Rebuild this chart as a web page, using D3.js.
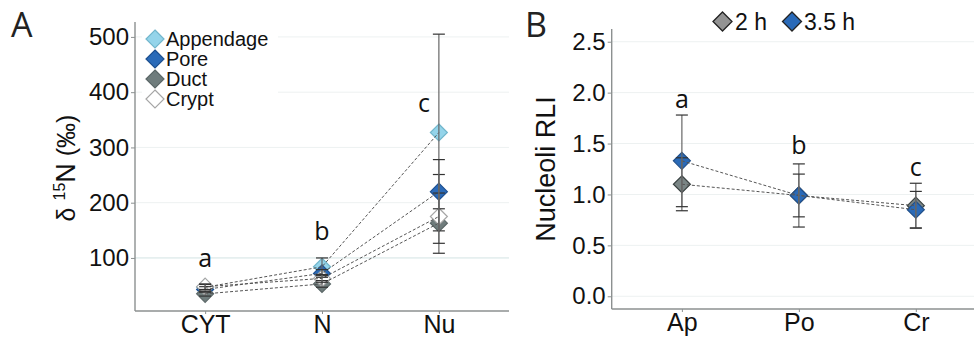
<!DOCTYPE html>
<html>
<head>
<meta charset="utf-8">
<script src="https://cdn.jsdelivr.net/npm/d3@7"></script>
<style>
  body { margin: 0; background: #fff; }
  svg { display: block; font-family: "Liberation Sans", Arial, sans-serif; }
</style>
</head>
<body>
<div id="chart"></div>
<script>
// ---- panel A data ----
const catsA = ["CYT", "N", "Nu"];
const seriesA = ["Appendage", "Pore", "Duct", "Crypt"];
const appendage = [47, 84, 327];
const appendageLo = [42, 68, 149];
const appendageHi = [52, 100, 505];
const pore = [43, 72, 220];
const poreLo = [38, 65, 189];
const poreHi = [48, 79, 251];
const duct = [35, 53, 163];
const ductLo = [31, 47, 108.5];
const ductHi = [39, 59, 217.5];
const crypt = [48, 63, 175];
const cryptLo = [43, 56, 126.5];
const cryptHi = [53, 70, 278];
const ticksA = [100, 200, 300, 400, 500];
const lettersA = ["a", "b", "c"];
const letterYA = [84, 133, 365];

// ---- panel B data ----
const catsB = ["Ap", "Po", "Cr"];
const seriesB = ["2 h", "3.5 h"];
const h2 = [1.10, 0.99, 0.89];
const h2Lo = [0.84, 0.68, 0.67];
const h2Hi = [1.36, 1.30, 1.11];
const h35 = [1.33, 0.99, 0.85];
const h35Lo = [0.88, 0.78, 0.67];
const h35Hi = [1.78, 1.20, 1.03];
const ticksB = [0.0, 0.5, 1.0, 1.5, 2.0, 2.5];
const lettersB = ["a", "b", "c"];
const letterYB = [1.85, 1.40, 1.18];

const stylesA = {
  "Appendage": { fill: "#94d4ea", stroke: "#72b6cc" },
  "Pore": { fill: "#2a6ab8", stroke: "#1d4f8f" },
  "Duct": { fill: "#6f7c7c", stroke: "#5b6767" },
  "Crypt": { fill: "#ffffff", stroke: "#a6a6a6" }
};
const stylesB = {
  "2 h": { fill: "#7a8585", stroke: "#3a4242", legendFill: "#939393" },
  "3.5 h": { fill: "#2a6ab8", stroke: "#22508a", legendFill: "#2a6ab8" }
};

const tableA = [
  { name: "Appendage", v: appendage, lo: appendageLo, hi: appendageHi },
  { name: "Pore", v: pore, lo: poreLo, hi: poreHi },
  { name: "Duct", v: duct, lo: ductLo, hi: ductHi },
  { name: "Crypt", v: crypt, lo: cryptLo, hi: cryptHi }
];
const tableB = [
  { name: "2 h", v: h2, lo: h2Lo, hi: h2Hi },
  { name: "3.5 h", v: h35, lo: h35Lo, hi: h35Hi }
];

const W = 974, H = 340;
const svg = d3.select("#chart").append("svg").attr("width", W).attr("height", H);

function diamondPath(half) {
  return `M0,${-half}L${half},0L0,${half}L${-half},0Z`;
}

function drawPanel(opt) {
  const g = svg.append("g");
  const x = d3.scalePoint().domain(opt.cats).range([opt.left, opt.right]).padding(0.6);
  const y = d3.scaleLinear().domain(opt.domain).range([opt.bottom, opt.top]);

  // gridlines
  g.selectAll(".grid").data(opt.ticks).join("line")
    .attr("x1", opt.left).attr("x2", Math.min(opt.right, W))
    .attr("y1", d => y(d)).attr("y2", d => y(d))
    .attr("stroke", d => d === opt.hiGrid ? "#d2e3e3" : "#edf1f1")
    .attr("stroke-width", 1);

  // legend bg (A only)
  if (opt.legendBox) {
    g.append("rect").attr("x", opt.legendBox[0]).attr("y", opt.legendBox[1])
      .attr("width", opt.legendBox[2]).attr("height", opt.legendBox[3]).attr("fill", "#fff");
  }

  // axes
  const yAxis = g.append("g").attr("transform", `translate(${opt.left},0)`)
    .call(d3.axisLeft(y).tickValues(opt.ticks).tickSize(4).tickPadding(2).tickFormat(opt.fmt));
  yAxis.select(".domain").attr("d", `M0,${opt.top}V${opt.bottom}`);
  const xAxis = g.append("g").attr("transform", `translate(0,${opt.bottom})`)
    .call(d3.axisBottom(x).tickSize(3).tickPadding(2));
  xAxis.select(".domain").attr("d", `M${opt.left},0H${opt.right}`);
  g.selectAll(".domain").attr("stroke", "#8c9090").attr("stroke-width", 1.4);
  g.selectAll(".tick line").attr("stroke", "#8c9090");
  g.selectAll(".tick text").attr("fill", "#111").style("font-size", "24px")
    .style("font-family", "'Liberation Sans', Arial, sans-serif");
  xAxis.selectAll(".tick text").style("font-size", "25px").attr("dy", "0.68em");

  // points
  opt.table.forEach(s => {
    const st = opt.styles[s.name];
    g.selectAll(null).data(s.v).join("path")
      .attr("d", diamondPath(8.5))
      .attr("transform", (d, i) => `translate(${x(opt.cats[i])},${y(d)})`)
      .attr("fill", st.fill).attr("stroke", st.stroke).attr("stroke-width", 1.2);
  });

  // dashed connecting lines
  const line = d3.line().x((d, i) => x(opt.cats[i])).y(d => y(d));
  opt.table.forEach(s => {
    g.append("path").datum(s.v).attr("d", line)
      .attr("fill", "none").attr("stroke", "#555").attr("stroke-width", 1)
      .attr("stroke-dasharray", "3,2");
  });

  // error bars
  opt.table.forEach(s => {
    s.v.forEach((d, i) => {
      const cx = x(opt.cats[i]);
      g.append("line").attr("x1", cx).attr("x2", cx)
        .attr("y1", y(s.lo[i])).attr("y2", y(s.hi[i]))
        .attr("stroke", "#666").attr("stroke-width", 1.2);
      [s.lo[i], s.hi[i]].forEach(e => {
        g.append("line").attr("x1", cx - 6).attr("x2", cx + 6)
          .attr("y1", y(e)).attr("y2", y(e))
          .attr("stroke", "#333").attr("stroke-width", 1.2);
      });
    });
  });

  // significance letters
  g.selectAll(".sig").data(opt.letters).join("text")
    .attr("x", (d, i) => x(opt.cats[i]) + (opt.letterDx ? opt.letterDx[i] : 0))
    .attr("y", (d, i) => y(opt.letterY[i]))
    .attr("text-anchor", "middle")
    .style("font-family", "'Open Sans', sans-serif").style("font-size", "25px")
    .attr("fill", "#111").text(d => d);

  return { g, x, y };
}

// ---- panel A ----
const pa = drawPanel({
  cats: catsA, table: tableA, styles: stylesA,
  left: 135, right: 509, top: 22, bottom: 311,
  domain: [4, 527], ticks: ticksA, hiGrid: 100, fmt: d3.format("d"),
  legendBox: [142, 27, 136, 84],
  letters: lettersA, letterY: letterYA, letterDx: [0, 0, -15]
});

// legend A
seriesA.forEach((name, i) => {
  const st = stylesA[name];
  const ly = 39 + i * 20;
  pa.g.append("path").attr("d", diamondPath(9)).attr("transform", `translate(155,${ly})`)
    .attr("fill", st.fill).attr("stroke", st.stroke).attr("stroke-width", 1.2);
  pa.g.append("text").attr("x", 166).attr("y", ly + 7).style("font-size", "20px")
    .attr("fill", "#111").text(name);
});

// y title A
const ta = svg.append("text")
  .attr("transform", "translate(75,168) rotate(-90)")
  .attr("text-anchor", "middle").style("font-size", "25px").attr("fill", "#111");
ta.append("tspan").text("δ ");
ta.append("tspan").attr("dy", -10).style("font-size", "16px").text("15");
ta.append("tspan").attr("dy", 10).style("font-size", "27px").text("N");
ta.append("tspan").text("  (‰)");

// ---- panel B ----
const pb = drawPanel({
  cats: catsB, table: tableB, styles: stylesB,
  left: 611.7, right: 986, top: 29, bottom: 309,
  domain: [-0.125, 2.625], ticks: ticksB, hiGrid: null, fmt: d3.format(".1f"),
  letters: lettersB, letterY: letterYB
});

// legend B
const legB = [{ name: "2 h", cx: 722.5, tx: 735 }, { name: "3.5 h", cx: 792, tx: 804 }];
legB.forEach(l => {
  const st = stylesB[l.name];
  svg.append("path").attr("d", diamondPath(9.5)).attr("transform", `translate(${l.cx},21.5)`)
    .attr("fill", st.legendFill).attr("stroke", "#222").attr("stroke-width", 1.3);
  svg.append("text").attr("x", l.tx).attr("y", 29.5).style("font-size", "23px")
    .attr("fill", "#111").text(l.name);
});

svg.append("text").attr("x", 555).attr("y", 169)
  .attr("transform", "rotate(-90,555,169)").attr("text-anchor", "middle")
  .style("font-size", "27px").attr("fill", "#111").text("Nucleoli RLI");

// panel labels
svg.append("text").attr("x", 11).attr("y", 37).style("font-family", "'Open Sans', sans-serif")
  .style("font-size", "34px").attr("fill", "#222").text("A");
svg.append("text").attr("x", 525).attr("y", 37).style("font-family", "'Open Sans', sans-serif")
  .style("font-size", "34px").attr("fill", "#222").text("B");
</script>
</body>
</html>
